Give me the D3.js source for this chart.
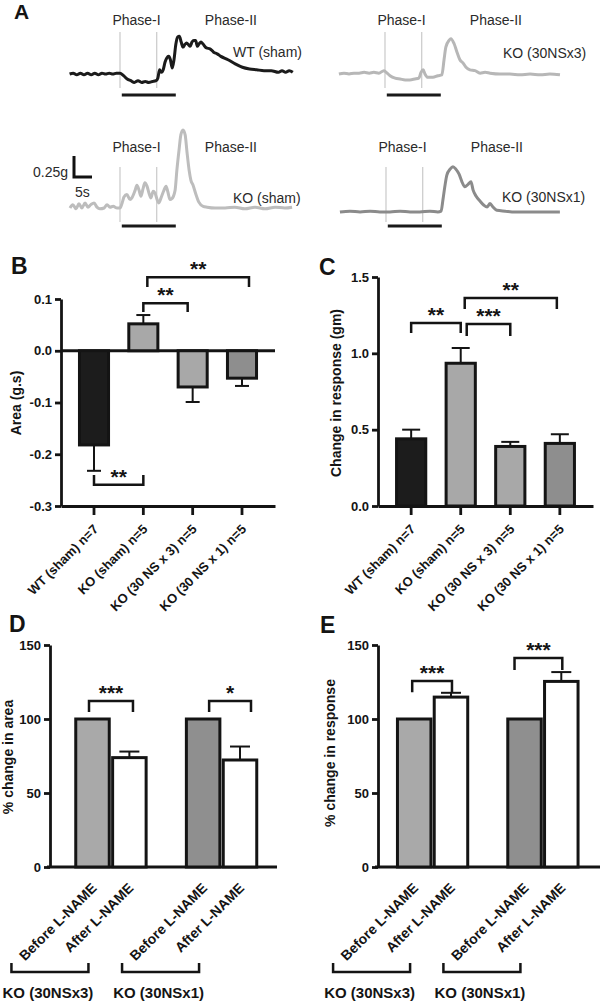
<!DOCTYPE html>
<html><head><meta charset="utf-8">
<script src="https://cdn.jsdelivr.net/npm/d3@7"></script>
<style>
html,body{margin:0;padding:0;background:#fff;}
svg{display:block;}
</style></head><body>
<svg id="fig" width="600" height="1001"></svg>
<script>
// ===================== DATA =====================
// Panel A traces: [time (s) relative to stimulus onset, force (g) relative to baseline]
const traceWT = [[-14,0],[-13,.01],[-12,-.01],[-11,.01],[-10,-.01],[-9,.01],[-8,-.01],[-7,.01],[-6,-.01],[-5,.01],[-4,0],[-3,.01],[-2,0],[-1,.01],[0,.01],[1,-.02],[2,-.06],[3,-.08],[4,-.1],[5,-.08],[6,-.1],[7,-.09],[8,-.1],[9,-.09],[10,-.08],[10.5,-.05],[11,.05],[11.5,.02],[12,.05],[12.5,.14],[13,.19],[13.5,.21],[14,.17],[14.5,.07],[15,.17],[15.5,.35],[16,.44],[16.5,.45],[17,.38],[17.5,.32],[18,.35],[18.5,.37],[19,.35],[19.5,.33],[20,.38],[20.5,.4],[21,.4],[21.5,.33],[22,.36],[22.5,.38],[23,.36],[24,.31],[25,.3],[26,.26],[27,.24],[28,.21],[30,.17],[32,.12],[34,.08],[36,.06],[38,.05],[40,.04],[42,.04],[44,.02],[45,.04],[46,.02],[47,.04],[48,.02]];
const traceKO30x3 = [[-12.8,0],[-11.4,.01],[-10,0],[-8.6,.01],[-7.2,.01],[-5.8,.02],[-4.4,.01],[-3.1,.02],[-1.7,.01],[-0.3,.04],[0.6,.01],[1.4,-.02],[2.8,-.05],[4.2,-.06],[5.6,-.07],[6.9,-.07],[8.3,-.06],[9.4,-.05],[10,.02],[10.6,.05],[11.1,0],[11.9,-.04],[13.3,-.04],[14.7,-.02],[15.8,-.01],[16.4,.17],[16.9,.32],[17.8,.4],[18.3,.42],[19.2,.36],[20,.26],[20.8,.17],[21.7,.13],[22.5,.08],[23.6,.05],[25,.04],[26.4,.01],[27.8,.02],[29.2,.01],[31.9,0],[34.7,0],[37.5,-.01],[40.3,0],[43.1,-.01],[45.8,0],[48.6,-.01]];
const traceKOsham = [[-13.9,0],[-13.1,.04],[-12.2,-.01],[-11.4,.05],[-10.6,0],[-9.7,.06],[-8.9,.01],[-8.1,.04],[-7.2,.06],[-6.4,.01],[-5.6,-.01],[-4.4,0],[-3.6,.04],[-2.8,.01],[-1.9,.02],[-0.8,0],[0,0],[0.6,.06],[1.1,.13],[1.9,.16],[2.8,.1],[3.3,.12],[4.2,.21],[4.7,.27],[5.3,.21],[5.8,.14],[6.4,.23],[6.9,.3],[7.5,.26],[8.1,.17],[8.6,.12],[9.2,.2],[9.7,.18],[10.3,.1],[10.8,.06],[11.4,.12],[12.2,.21],[12.8,.26],[13.3,.19],[13.9,.1],[14.4,.11],[15.3,.21],[15.8,.45],[16.4,.69],[16.9,.87],[17.5,.93],[18.1,.87],[18.6,.67],[19.2,.45],[19.7,.33],[20.3,.27],[21.1,.16],[21.9,.07],[23.1,.02],[24.2,.01],[26.4,0],[29.2,0],[31.9,.01],[34.7,-.01],[37.5,.01],[40.3,-.01],[43.1,.01],[45.8,0],[47.8,.01]];
const traceKO30x1 = [[-12.8,0],[-10,.01],[-7.2,0],[-4.4,.01],[-1.7,0],[1.1,0],[3.9,.01],[6.7,0],[9.4,0],[12.2,.01],[14.4,0],[15.3,.01],[15.8,.14],[16.4,.32],[16.9,.44],[17.8,.51],[18.6,.54],[19.4,.51],[20.3,.45],[21.1,.36],[21.9,.3],[22.8,.33],[23.6,.36],[24.2,.26],[25,.19],[26.1,.13],[27.2,.08],[28.1,.06],[28.9,.1],[29.7,.06],[30.8,.02],[33.1,.01],[35.8,0],[40,0],[44.2,0],[48.3,0]];
const traceLabels = ["WT (sham)", "KO (30NSx3)", "KO (sham)", "KO (30NSx1)"];
const phaseLabels = ["Phase-I", "Phase-II"];
const phaseBounds = [0, 10.2];      // s
const stimulus = [0.5, 15.5];       // s
const scaleBarValues = [0.25, 5];   // g, s
const scaleBarLabels = ["0.25g", "5s"];

// Panels B & C
const groupCats = ["WT (sham) n=7", "KO (sham) n=5", "KO (30 NS x 3) n=5", "KO (30 NS x 1) n=5"];
const areaMean = [-0.182, 0.052, -0.070, -0.053];
const areaSEM  = [0.050, 0.017, 0.029, 0.015];
const areaTicks = [-0.3, -0.2, -0.1, 0.0, 0.1];
const areaTickLabels = ["-0.3", "-0.2", "-0.1", "0.0", "0.1"];
const respMean = [0.44, 0.935, 0.39, 0.41];
const respSEM  = [0.06, 0.10, 0.03, 0.06];
const respTicks = [0, 0.5, 1.0, 1.5];
const respTickLabels = ["0.0", "0.5", "1.0", "1.5"];

// Panels D & E
const lnameCats = ["Before L-NAME", "After L-NAME", "Before L-NAME", "After L-NAME"];
const koGroups = ["KO (30NSx3)", "KO (30NSx1)"];
const pctAreaMean = [100, 73.9, 100, 72.3];
const pctAreaSEM  = [0, 4.1, 0, 9.1];
const pctRespMean = [100, 114.8, 100, 125.4];
const pctRespSEM  = [0, 2.9, 0, 6.3];
const pctTicks = [0, 50, 100, 150];

// significance brackets: indices of compared bars, level (data units), leg end (data units), label
const sigB = [[0, 1, -0.259, -0.240, "**"], [1, 2, 0.092, 0.075, "**"], [1, 3, 0.142, 0.123, "**"]];
const sigC = [[0, 1, 1.199, 1.133, "**"], [1, 2, 1.192, 1.114, "***"], [1, 3, 1.362, 1.290, "**"]];
const sigD = [[0, 1, 112.2, 104.7, "***"], [2, 3, 112.2, 104.7, "*"]];
const sigE = [[0, 1, 125.6, 118.1, "***"], [2, 3, 141.2, 133.1, "***"]];

// ===================== DRAWING =====================
const FONT = '"Liberation Sans", Arial, Helvetica, sans-serif';
const INK = "#141414";
const svg = d3.select("#fig").attr("font-family", FONT);

function panelLetter(t, x, y, size) {
  svg.append("text").attr("x", x).attr("y", y).attr("font-size", size)
    .attr("font-weight", "bold").attr("fill", INK).text(t);
}

// ---------- Panel A ----------
panelLetter("A", 14, 19, 21);
const PX_PER_S = 3.6, PX_PER_G = 84;
const traceDefs = [
  {data: traceWT,     label: traceLabels[0], x0: 120, y0: 74,  color: "#1b1b1b", row: 0, lx: 233, ly: 57},
  {data: traceKO30x3, label: traceLabels[1], x0: 385, y0: 74,  color: "#b7b7b7", row: 0, lx: 503, ly: 58},
  {data: traceKOsham, label: traceLabels[2], x0: 120, y0: 208, color: "#bdbdbd", row: 1, lx: 233, ly: 203},
  {data: traceKO30x1, label: traceLabels[3], x0: 386, y0: 212, color: "#8b8b8b", row: 1, lx: 502, ly: 202}
];
const rows = [
  {phaseY: 25, vTop: 32, vBot: 88, stimY: 95},
  {phaseY: 152, vTop: 167, vBot: 222, stimY: 226}
];
traceDefs.forEach(d => {
  const x = d3.scaleLinear().domain([0, 10]).range([d.x0, d.x0 + 10 * PX_PER_S]);
  const y = d3.scaleLinear().domain([0, 1]).range([d.y0, d.y0 - PX_PER_G]);
  const r = rows[d.row];
  const g = svg.append("g");
  g.selectAll("line.ph").data(phaseBounds).join("line")
    .attr("x1", t => x(t)).attr("x2", t => x(t))
    .attr("y1", r.vTop).attr("y2", r.vBot)
    .attr("stroke", "#c9c9c9").attr("stroke-width", 1.2);
  g.append("path").datum(d.data)
    .attr("d", d3.line().x(p => x(p[0])).y(p => y(p[1])).curve(d3.curveMonotoneX))
    .attr("fill", "none").attr("stroke", d.color).attr("stroke-width", 3)
    .attr("stroke-linejoin", "round");
  g.append("line").attr("x1", x(stimulus[0])).attr("x2", x(stimulus[1]))
    .attr("y1", r.stimY).attr("y2", r.stimY).attr("stroke", "#1a1a1a").attr("stroke-width", 3);
  g.append("text").attr("x", x(4.6)).attr("y", r.phaseY).attr("text-anchor", "middle")
    .attr("font-size", 14).attr("fill", "#2a2a2a").text(phaseLabels[0]);
  g.append("text").attr("x", x(30.8)).attr("y", r.phaseY).attr("text-anchor", "middle")
    .attr("font-size", 14).attr("fill", "#2a2a2a").text(phaseLabels[1]);
  g.append("text").attr("x", d.lx).attr("y", d.ly)
    .attr("font-size", 14).attr("fill", "#2a2a2a").text(d.label);
});
{
  const sx = d3.scaleLinear().domain([0, 1]).range([0, PX_PER_S]);
  const sy = d3.scaleLinear().domain([0, 1]).range([0, PX_PER_G]);
  const cx = 74, cy = 177;
  svg.append("path")
    .attr("d", `M${cx},${cy - sy(scaleBarValues[0])}V${cy}H${cx + sx(scaleBarValues[1])}`)
    .attr("fill", "none").attr("stroke", "#111").attr("stroke-width", 3);
  svg.append("text").attr("x", cx - 6).attr("y", cy).attr("text-anchor", "end")
    .attr("font-size", 14).attr("fill", "#2a2a2a").text(scaleBarLabels[0]);
  svg.append("text").attr("x", cx + 1).attr("y", 197)
    .attr("font-size", 14).attr("fill", "#2a2a2a").text(scaleBarLabels[1]);
}

// ---------- helpers for bar panels ----------
function styleAxis(sel) {
  sel.select(".domain").attr("stroke", INK).attr("stroke-width", 2.8);
  sel.selectAll(".tick line").attr("stroke", INK).attr("stroke-width", 2.8);
  sel.selectAll(".tick text").attr("fill", INK).attr("font-size", 13)
    .attr("font-weight", "bold").attr("font-family", FONT);
}
function yLabel(text, x, y) {
  svg.append("text").attr("transform", `translate(${x},${y}) rotate(-90)`)
    .attr("text-anchor", "middle").attr("font-size", 14).attr("font-weight", "bold")
    .attr("fill", INK).text(text);
}
function drawBars(xc, w, y, means, sems, fills, capW) {
  const g = svg.append("g");
  means.forEach((m, i) => {
    const s = Math.sign(m) || 1;
    if (sems[i] > 0) {
      const e = m + s * sems[i];
      g.append("line").attr("x1", xc(i)).attr("x2", xc(i)).attr("y1", y(m)).attr("y2", y(e))
        .attr("stroke", INK).attr("stroke-width", 2);
      g.append("line").attr("x1", xc(i) - capW / 2).attr("x2", xc(i) + capW / 2)
        .attr("y1", y(e)).attr("y2", y(e)).attr("stroke", INK).attr("stroke-width", 2);
    }
  });
  g.selectAll("rect").data(means).join("rect")
    .attr("x", (d, i) => xc(i) - w / 2).attr("width", w)
    .attr("y", d => Math.min(y(d), y(0))).attr("height", d => Math.abs(y(d) - y(0)))
    .attr("fill", (d, i) => fills[i]).attr("stroke", INK).attr("stroke-width", 3);
}
function drawSig(sigs, xc, y, nudges) {
  sigs.forEach((s, k) => {
    const x1 = xc(s[0]) + nudges[k][0], x2 = xc(s[1]) + nudges[k][1];
    const yl = y(s[2]), yg = y(s[3]);
    svg.append("path").attr("d", `M${x1},${yg}V${yl}H${x2}V${yg}`)
      .attr("fill", "none").attr("stroke", INK).attr("stroke-width", 2.5);
    svg.append("text").attr("x", (x1 + x2) / 2).attr("y", yl - 1)
      .attr("text-anchor", "middle").attr("font-size", 21).attr("font-weight", "bold")
      .attr("fill", INK).text(s[4]);
  });
}
function rotLabels(labels, xc, y0, size) {
  svg.append("g").selectAll("text").data(labels).join("text")
    .attr("transform", (d, i) => `translate(${xc(i) + 5},${y0}) rotate(-45)`)
    .attr("text-anchor", "end").attr("font-size", size).attr("font-weight", "bold")
    .attr("fill", INK).text(d => d);
}

const fillsBC = ["#1c1c1c", "#a8a8a8", "#a8a8a8", "#8e8e8e"];
const fillsDE = ["#a9a9a9", "#ffffff", "#8f8f8f", "#ffffff"];

// ---------- Panel B ----------
panelLetter("B", 11, 274, 23);
{
  const y = d3.scaleLinear().domain([-0.3, 0.1]).range([506, 299]);
  const x = d3.scaleBand().domain(groupCats).range([61, 275]).paddingInner(0.35).paddingOuter(0.344);
  const xc = i => x(groupCats[i]) + x.bandwidth() / 2;
  svg.append("g").attr("transform", "translate(61,0)")
    .call(d3.axisLeft(y).tickValues(areaTicks).tickSize(6).tickSizeOuter(0).tickPadding(3)
      .tickFormat((d, i) => areaTickLabels[i])).call(styleAxis);
  svg.append("g").attr("transform", "translate(0,506)")
    .call(d3.axisBottom(x).tickSize(9).tickSizeOuter(0).tickFormat("")).call(styleAxis);
  svg.append("line").attr("x1", 61).attr("x2", 275).attr("y1", y(0)).attr("y2", y(0))
    .attr("stroke", INK).attr("stroke-width", 2.8);
  drawBars(xc, x.bandwidth() - 3, y, areaMean, areaSEM, fillsBC, 14);
  drawSig(sigB, xc, y, [[0, 0], [0, -5], [4, 7]]);
  rotLabels(groupCats, xc, 530, 13);
  yLabel("Area (g.s)", 21, 403);
}

// ---------- Panel C ----------
panelLetter("C", 319, 275, 23);
{
  const y = d3.scaleLinear().domain([0, 1.5]).range([506, 277]);
  const x = d3.scaleBand().domain(groupCats).range([378, 593]).paddingInner(0.35).paddingOuter(0.344);
  const xc = i => x(groupCats[i]) + x.bandwidth() / 2;
  svg.append("g").attr("transform", "translate(378,0)")
    .call(d3.axisLeft(y).tickValues(respTicks).tickSize(6).tickSizeOuter(0).tickPadding(3)
      .tickFormat((d, i) => respTickLabels[i])).call(styleAxis);
  svg.append("g").attr("transform", "translate(0,506)")
    .call(d3.axisBottom(x).tickSize(9).tickSizeOuter(0).tickFormat("")).call(styleAxis);
  drawBars(xc, x.bandwidth() - 3, y, respMean, respSEM, fillsBC, 18);
  drawSig(sigC, xc, y, [[0, 0], [6, 0], [4, -3]]);
  rotLabels(groupCats, xc, 530, 13);
  yLabel("Change in response (gm)", 341, 393);
}

// ---------- Panels D & E ----------
function lnamePanel(letter, lx, ly, axisX, axisEnd, xRange, means, sems, sigs, nudges, ylab, ylx, yly) {
  panelLetter(letter, lx, ly, 23);
  const y = d3.scaleLinear().domain([0, 150]).range([867, 645]);
  const slot = d3.scaleLinear().domain([0, 4]).range(xRange);
  const xc = i => slot(i < 2 ? i : i + 1);
  svg.append("g").attr("transform", `translate(${axisX},0)`)
    .call(d3.axisLeft(y).tickValues(pctTicks).tickSize(6).tickSizeOuter(0).tickPadding(3)
      .tickFormat(d3.format("d"))).call(styleAxis);
  svg.append("line").attr("x1", axisX - 3).attr("x2", axisEnd).attr("y1", y(0)).attr("y2", y(0))
    .attr("stroke", INK).attr("stroke-width", 2.8);
  drawBars(xc, 33.5, y, means, sems, fillsDE, 20);
  drawSig(sigs, xc, y, nudges);
  rotLabels(lnameCats, xc, 889, 14);
  koGroups.forEach((gname, k) => {
    const c = (xc(2 * k) + xc(2 * k + 1)) / 2 - 61;
    svg.append("path").attr("d", `M${c - 38.5},963V972H${c + 38.5}V963`)
      .attr("fill", "none").attr("stroke", INK).attr("stroke-width", 2.5);
    svg.append("text").attr("x", c - 2).attr("y", 998).attr("text-anchor", "middle")
      .attr("font-size", 15).attr("font-weight", "bold").attr("fill", INK).text(gname);
  });
  yLabel(ylab, ylx, yly);
}
lnamePanel("D", 9, 632, 50, 277, [92.5, 240], pctAreaMean, pctAreaSEM, sigD,
  [[-3.5, 3.6], [6, 11]], "% change in area", 13, 757);
lnamePanel("E", 320, 633, 378, 600, [414.2, 561.3], pctRespMean, pctRespSEM, sigE,
  [[-2, 1], [-10, 1]], "% change in response", 335, 753);
</script>
</body></html>
